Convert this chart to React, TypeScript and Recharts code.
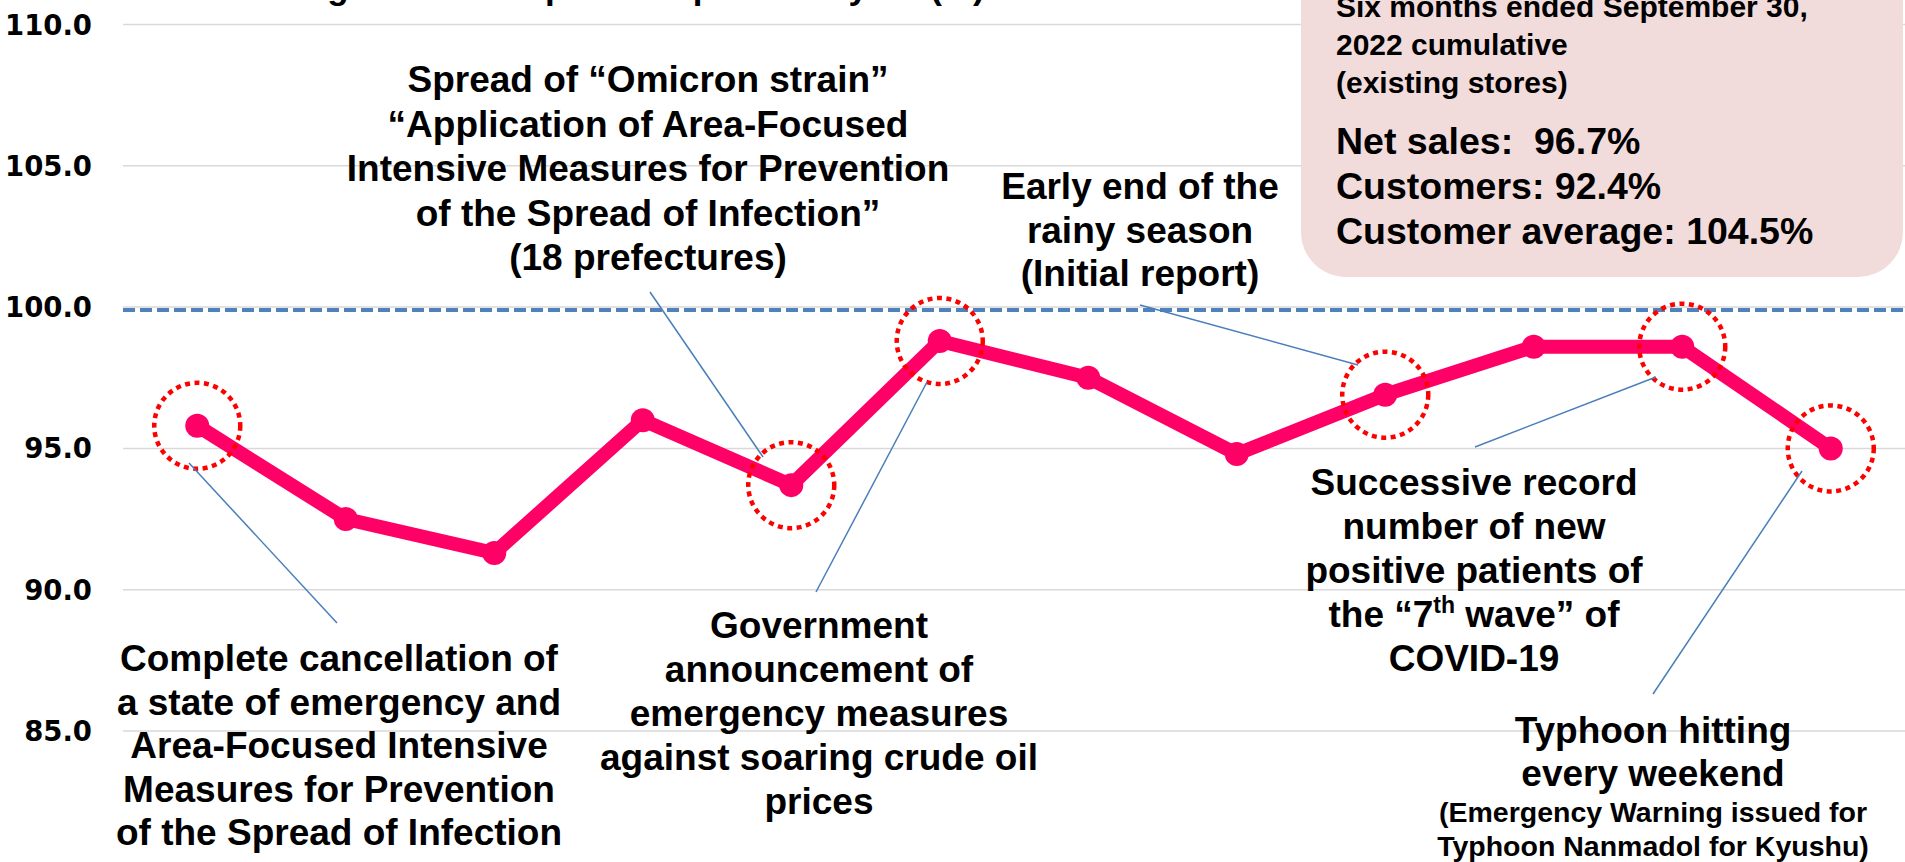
import { LineChart, Line, XAxis, YAxis, CartesianGrid, ReferenceLine } from "recharts";

// monthly net sales of existing stores vs previous year (%), Oct 2021 - Sep 2022
const months = ["Oct", "Nov", "Dec", "Jan", "Feb", "Mar", "Apr", "May", "Jun", "Jul", "Aug", "Sep"];
const netSales = [95.8, 92.5, 91.3, 96.0, 93.7, 98.8, 97.5, 94.8, 96.9, 98.6, 98.6, 95.0];
const circled = [true, false, false, false, true, true, false, false, true, false, true, true];
const yTicks = [85, 90, 95, 100, 105, 110];
const baseline = 99.9;

const data = months.map((m, i) => ({ month: m, sales: netSales[i], circled: circled[i] }));

const FONT = "'Liberation Sans', Arial, sans-serif";
const PINK = "#ff0066";
const LEADER = "#4a7ebb";

const noteCancel = [
  "Complete cancellation of",
  "a state of emergency and",
  "Area-Focused Intensive",
  "Measures for Prevention",
  "of the Spread of Infection",
];
const noteOmicron = [
  "Spread of “Omicron strain”",
  "“Application of Area-Focused",
  "Intensive Measures for Prevention",
  "of the Spread of Infection”",
  "(18 prefectures)",
];
const noteOil = [
  "Government",
  "announcement of",
  "emergency measures",
  "against soaring crude oil",
  "prices",
];
const noteRain = ["Early end of the", "rainy season", "(Initial report)"];
const noteTyphoon = ["Typhoon hitting", "every weekend"];
const noteTyphoonSub = ["(Emergency Warning issued for", "Typhoon Nanmadol for Kyushu)"];
const boxHead = ["Six months ended September 30,", "2022 cumulative", "(existing stores)"];
const boxStats = ["Net sales:  96.7%", "Customers: 92.4%", "Customer average: 104.5%"];

function SalesDot(props: any) {
  const { cx, cy, payload, index } = props;
  return (
    <g key={`dot-${index}`}>
      <circle cx={cx} cy={cy} r={12} fill={PINK} />
      {payload.circled && (
        <circle
          cx={cx}
          cy={cy}
          r={43}
          fill="none"
          stroke="#ff0000"
          strokeWidth={4.5}
          strokeDasharray="5 4.5"
        />
      )}
    </g>
  );
}

function YTick({ x, y, payload }: any) {
  return (
    <text
      x={x}
      y={y}
      dy={10}
      textAnchor="end"
      fontFamily="'DejaVu Sans', Verdana, sans-serif"
      fontWeight="bold"
      fontSize={27.5}
      fill="#000"
    >
      {Number(payload.value).toFixed(1)}
    </text>
  );
}

function Block({ lines, cx, y0, step, size = 37 }: { lines: string[]; cx: number; y0: number; step: number; size?: number }) {
  return (
    <text textAnchor="middle" fontFamily={FONT} fontWeight="bold" fontSize={size} fill="#000">
      {lines.map((l, i) => (
        <tspan key={i} x={cx} y={y0 + i * step}>
          {l}
        </tspan>
      ))}
    </text>
  );
}

function Overlay() {
  const leaders = [
    [189, 463, 337, 623],
    [650, 292, 763, 457],
    [927, 382, 816, 592],
    [1140, 305, 1358, 365],
    [1475, 447, 1656, 377],
    [1802, 471, 1653, 694],
  ];
  return (
    <svg
      width={1905}
      height={862}
      style={{ position: "absolute", left: 0, top: 0, pointerEvents: "none" }}
    >
      {/* chart title, cut off by the top edge in the source: only descenders show */}
      <text x={12} y={-1} fontFamily={FONT} fontWeight="bold" fontSize={35} fill="#000">
        Net sales at existing stores compared to previous year (%)
      </text>

      {leaders.map(([x1, y1, x2, y2], i) => (
        <line key={i} x1={x1} y1={y1} x2={x2} y2={y2} stroke={LEADER} strokeWidth={1.5} />
      ))}

      <Block lines={noteCancel} cx={339} y0={671} step={43.5} />
      <Block lines={noteOmicron} cx={648} y0={92} step={44.5} />
      <Block lines={noteOil} cx={819} y0={638} step={44} />
      <Block lines={noteRain} cx={1140} y0={199} step={43.5} />

      <text textAnchor="middle" fontFamily={FONT} fontWeight="bold" fontSize={37} fill="#000">
        <tspan x={1474} y={495}>Successive record</tspan>
        <tspan x={1474} y={539}>number of new</tspan>
        <tspan x={1474} y={583}>positive patients of</tspan>
        <tspan x={1474} y={627}>
          the “7<tspan fontSize={23} dy={-14}>th</tspan>
          <tspan dy={14}> wave” of</tspan>
        </tspan>
        <tspan x={1474} y={671}>COVID-19</tspan>
      </text>

      <Block lines={noteTyphoon} cx={1653} y0={743} step={43} />
      <Block lines={noteTyphoonSub} cx={1653} y0={822} step={34} size={28.5} />

      <rect x={1301} y={-60} width={602} height={337} rx={45} ry={45} fill="#f2dcdb" />
      <text fontFamily={FONT} fontWeight="bold" fontSize={30} fill="#000">
        {boxHead.map((l, i) => (
          <tspan key={i} x={1336} y={17 + i * 38}>
            {l}
          </tspan>
        ))}
      </text>
      <text fontFamily={FONT} fontWeight="bold" fontSize={37.5} fill="#000" style={{ whiteSpace: "pre" }}>
        {boxStats.map((l, i) => (
          <tspan key={i} x={1336} y={154 + i * 45}>
            {l}
          </tspan>
        ))}
      </text>
    </svg>
  );
}

export default function App() {
  return (
    <div
      style={{
        position: "absolute",
        left: 0,
        top: 0,
        width: 1905,
        height: 862,
        background: "#fff",
        fontFamily: FONT,
        overflow: "hidden",
      }}
    >
      <LineChart
        width={1905}
        height={862}
        data={data}
        margin={{ top: 24.5, right: 0, bottom: 131, left: 0 }}
      >
        <CartesianGrid vertical={false} stroke="#d9d9d9" strokeWidth={1.5} />
        <XAxis dataKey="month" hide padding={{ left: 74.25, right: 74.25 }} />
        <YAxis
          width={123}
          domain={[85, 110]}
          ticks={yTicks}
          axisLine={false}
          tickLine={false}
          tickSize={0}
          tickMargin={31}
          tick={<YTick />}
        />
        <ReferenceLine y={baseline} stroke="#4f81bd" strokeWidth={4} strokeDasharray="12 5" />
        <Line
          type="linear"
          dataKey="sales"
          stroke={PINK}
          strokeWidth={14}
          strokeLinejoin="round"
          dot={<SalesDot />}
          activeDot={false}
          isAnimationActive={false}
        />
      </LineChart>
      <Overlay />
    </div>
  );
}
